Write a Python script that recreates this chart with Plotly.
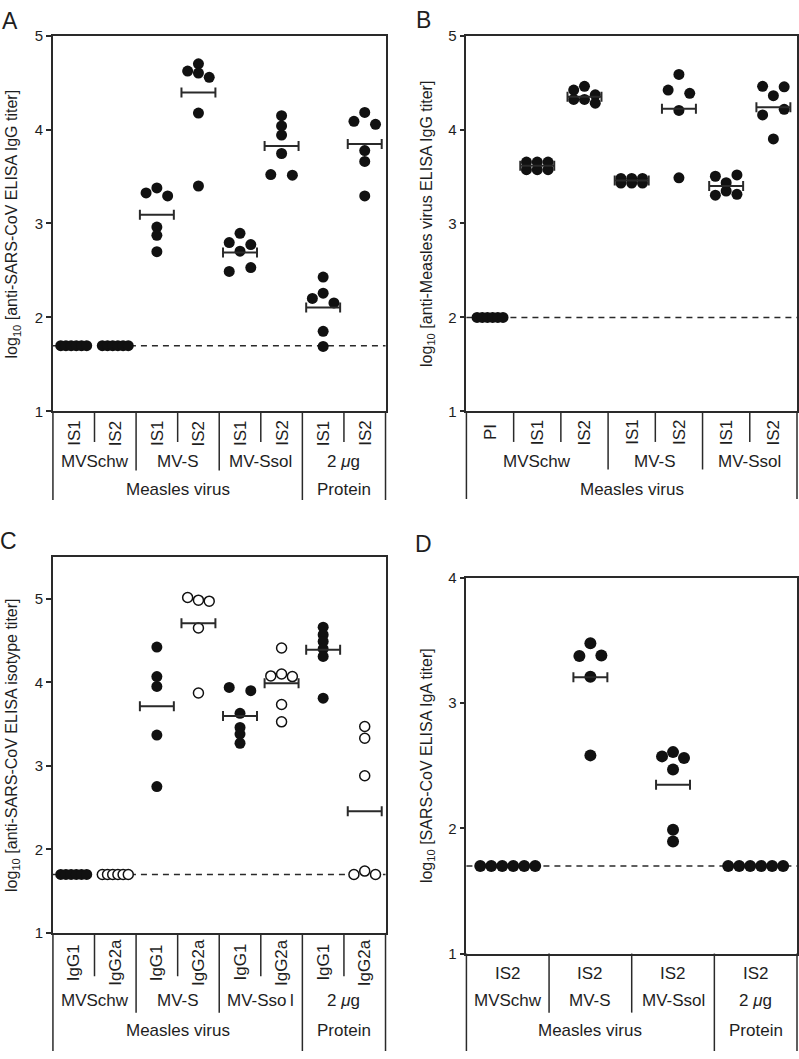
import numpy as np
import plotly.graph_objects as go

W, H = 799, 1059

# ---------------- data ----------------
# Panel A: anti-SARS-CoV ELISA IgG
a_sub = ["IS1", "IS2", "IS1", "IS2", "IS1", "IS2", "IS1", "IS2"]
a_groups = ["MVSchw", "MV-S", "MV-Ssol", "2 <i>μ</i>g"]
a_top = ["Measles virus", "Protein"]
a_values = [
    [1.70, 1.70, 1.70, 1.70, 1.70, 1.70],
    [1.70, 1.70, 1.70, 1.70, 1.70, 1.70],
    [3.378, 3.325, 3.294, 2.962, 2.874, 2.700],
    [4.699, 4.622, 4.601, 4.556, 4.175, 3.399],
    [2.895, 2.797, 2.776, 2.706, 2.490, 2.531],
    [4.147, 4.038, 3.941, 3.745, 3.521, 3.514],
    [2.430, 2.259, 2.203, 2.155, 1.853, 1.692],
    [4.182, 4.087, 4.055, 3.776, 3.661, 3.294],
]
a_means = [None, None, 3.094, 4.395, 2.692, 3.825, 2.105, 3.846]
a_lod = 1.70

# Panel B: anti-Measles virus ELISA IgG
b_sub = ["PI", "IS1", "IS2", "IS1", "IS2", "IS1", "IS2"]
b_groups = ["MVSchw", "MV-S", "MV-Ssol"]
b_top = ["Measles virus"]
b_values = [
    [2.00, 2.00, 2.00, 2.00, 2.00, 2.00],
    [3.654, 3.654, 3.654, 3.573, 3.573, 3.573],
    [4.46, 4.42, 4.37, 4.32, 4.32, 4.28],
    [3.48, 3.48, 3.48, 3.43, 3.43, 3.43],
    [4.587, 4.420, 4.385, 4.203, 3.486],
    [3.503, 3.517, 3.434, 3.301, 3.346, 3.311],
    [4.460, 4.455, 4.360, 4.155, 4.215, 3.900],
]
b_means = [None, 3.615, 4.350, 3.458, 4.220, 3.400, 4.238]
b_lod = 2.00

# Panel C: anti-SARS-CoV ELISA isotype
c_sub = ["IgG1", "IgG2a", "IgG1", "IgG2a", "IgG1", "IgG2a", "IgG1", "IgG2a"]
c_groups = ["MVSchw", "MV-S", "MV-Sso\u2009l", "2 <i>μ</i>g"]
c_top = ["Measles virus", "Protein"]
c_values = [
    [1.70, 1.70, 1.70, 1.70, 1.70, 1.70],
    [1.70, 1.70, 1.70, 1.70, 1.70, 1.70],
    [4.422, 4.069, 3.951, 3.369, 2.752],
    [5.016, 4.984, 4.972, 4.650, 3.872],
    [3.939, 3.900, 3.629, 3.460, 3.381, 3.271],
    [4.411, 4.077, 4.100, 4.069, 3.735, 3.527],
    [4.66, 4.57, 4.49, 4.40, 4.31, 3.81],
    [3.472, 3.330, 2.882, 1.700, 1.740, 1.700],
]
c_means = [None, None, 3.715, 4.709, 3.597, 3.990, 4.390, 2.458]
c_open = [False, True, False, True, False, True, False, True]
c_lod = 1.70

# Panel D: SARS-CoV ELISA IgA
d_sub = ["IS2", "IS2", "IS2", "IS2"]
d_groups = ["MVSchw", "MV-S", "MV-Ssol", "2 <i>μ</i>g"]
d_top = ["Measles virus", "Protein"]
d_values = [
    [1.70, 1.70, 1.70, 1.70, 1.70, 1.70],
    [3.477, 3.375, 3.380, 3.210, 2.582],
    [2.574, 2.608, 2.561, 2.470, 1.988, 1.894],
    [1.70, 1.70, 1.70, 1.70, 1.70, 1.70],
]
d_means = [None, 3.205, 2.347, None]
d_lod = 1.70

# ---------------- style ----------------
LC = "#2a2a2a"
TC = "#1e1e1e"
DOT = "#111111"
LW = 1.5
FONT = "Liberation Sans, Arial, sans-serif"
CAT_SIZE = 17
TITLE_SIZE = 16


def swarm_offsets(vals, step_px, max_half_px):
    """Prism-like spreading: points sharing a 0.1-unit row are spread sideways."""
    rows = {}
    for i, v in enumerate(vals):
        k = int(np.floor(v * 10 + 0.5 + 1e-9))
        rows.setdefault(k, []).append(i)
    offs = [0.0] * len(vals)
    for idx in rows.values():
        n = len(idx)
        if n == 1:
            pos = [0.0]
        elif n == 2:
            pos = [-step_px, step_px]
        else:
            pos = [(j - (n - 1) / 2) * step_px for j in range(n)]
        half = max(abs(p) for p in pos)
        if half > max_half_px:
            f = max_half_px / half
            pos = [p * f for p in pos]
        for j, i in enumerate(idx):
            offs[i] = pos[j]
    return offs


panels = [
    dict(letter="A", values=a_values, means=a_means, lod=a_lod, sub=a_sub, groups=a_groups,
         group_span=[(0, 1), (2, 3), (4, 5), (6, 7)], top=a_top, top_span=[(0, 5), (6, 7)],
         rotated=True, open=[False] * 8,
         x0=53, x1=386, ytop=27, ybot=409, yr=[1, 5], ticks=[1, 2, 3, 4, 5],
         title="log<sub>10</sub> [anti-SARS-CoV ELISA IgG titer]", title_x=13,
         short=[0.5, 2.5, 4.5, 6.5], medium=[1.5, 3.5], long=[5.5],
         y_sub=431, y_grp=460, y_top=488, e_short=440, e_med=469, e_long=499,
         dot=11, step=10.8, maxhalf=13, letter_xy=(10, 12)),
    dict(letter="B", values=b_values, means=b_means, lod=b_lod, sub=b_sub, groups=b_groups,
         group_span=[(0, 2), (3, 4), (5, 6)], top=b_top, top_span=[(0, 6)],
         rotated=True, open=[False] * 7,
         x0=467, x1=798, ytop=27, ybot=409, yr=[1, 5], ticks=[1, 2, 3, 4, 5],
         title="log<sub>10</sub> [anti-Measles virus ELISA IgG titer]", title_x=428,
         short=[0.5, 1.5, 3.5, 5.5], medium=[2.5, 4.5], long=[],
         y_sub=430, y_grp=460, y_top=488, e_short=440, e_med=468, e_long=498,
         dot=11, step=10.8, maxhalf=13, letter_xy=(424, 11)),
    dict(letter="C", values=c_values, means=c_means, lod=c_lod, sub=c_sub, groups=c_groups,
         group_span=[(0, 1), (2, 3), (4, 5), (6, 7)], top=c_top, top_span=[(0, 5), (6, 7)],
         rotated=True, open=c_open,
         x0=53, x1=386, ytop=557, ybot=939, yr=[1, 5.5], ticks=[1, 2, 3, 4, 5],
         title="log<sub>10</sub> [anti-SARS-CoV ELISA isotype titer]", title_x=13,
         short=[0.5, 2.5, 4.5, 6.5], medium=[1.5, 3.5], long=[5.5],
         y_sub=969, y_grp=1008, y_top=1038, e_short=983, e_med=1020, e_long=1059,
         dot=11, step=10.8, maxhalf=13, letter_xy=(9, 541)),
    dict(letter="D", values=d_values, means=d_means, lod=d_lod, sub=d_sub, groups=d_groups,
         group_span=[(0, 0), (1, 1), (2, 2), (3, 3)], top=d_top, top_span=[(0, 2), (3, 3)],
         rotated=False, open=[False] * 4,
         x0=467, x1=798, ytop=578, ybot=960, yr=[1, 4], ticks=[1, 2, 3, 4],
         title="log<sub>10</sub> [SARS-CoV ELISA IgA titer]", title_x=428,
         short=[], medium=[0.5, 1.5], long=[2.5],
         y_sub=980, y_grp=1008, y_top=1038, e_short=1020, e_med=1020, e_long=1059,
         dot=12, step=11.0, maxhalf=30, letter_xy=(424, 544)),
]


def py(px):
    return 1 - px / H


fig = go.Figure()
shapes = []
annotations = []

for n, P in enumerate(panels, start=1):
    sfx = "" if n == 1 else str(n)
    xa, ya = "x" + sfx, "y" + sfx
    ncols = len(P["values"])
    colw = (P["x1"] - P["x0"]) / ncols

    # dots
    for filled_pass in (True, False):
        xs, ys = [], []
        for ci, vals in enumerate(P["values"]):
            if P["open"][ci] == filled_pass:
                continue
            offs = swarm_offsets(vals, P["step"], P["maxhalf"])
            for v, o in zip(vals, offs):
                xs.append(ci + o / colw)
                ys.append(v)
        if not xs:
            continue
        if filled_pass:
            marker = dict(size=P["dot"], color=DOT, line=dict(width=0))
        else:
            marker = dict(size=P["dot"] - 1, color="white", line=dict(width=1.5, color=DOT))
        fig.add_trace(go.Scatter(x=xs, y=ys, mode="markers", marker=marker,
                                 xaxis=xa, yaxis=ya, hoverinfo="skip", showlegend=False))

    # mean bars
    for ci, m in enumerate(P["means"]):
        if m is None:
            continue
        fig.add_trace(go.Scatter(
            x=[ci], y=[m], mode="markers",
            marker=dict(size=1, color="rgba(0,0,0,0)"),
            error_x=dict(type="constant", value=17 / colw, width=5, thickness=2, color=LC),
            xaxis=xa, yaxis=ya, hoverinfo="skip", showlegend=False))

    fig.update_layout({
        "xaxis" + sfx: dict(domain=[P["x0"] / W, P["x1"] / W], range=[-0.5, ncols - 0.5],
                            anchor=ya, showline=True, mirror=True, linecolor=LC, linewidth=LW,
                            showticklabels=False, ticks="", showgrid=False, zeroline=False),
        "yaxis" + sfx: dict(domain=[py(P["ybot"]), py(P["ytop"])], range=P["yr"], anchor=xa,
                            tickvals=P["ticks"], ticks="outside", ticklen=5, tickwidth=LW,
                            tickcolor=LC, tickfont=dict(family=FONT, size=15, color=TC),
                            showline=True, mirror=True, linecolor=LC, linewidth=LW,
                            showgrid=False, zeroline=False),
    })

    # detection limit dashed line
    shapes.append(dict(type="line", xref=xa + " domain", x0=0, x1=1, yref=ya,
                       y0=P["lod"], y1=P["lod"], layer="below",
                       line=dict(color=LC, width=1.5, dash="6px,5px")))
    # outer vertical lines of the category block
    for xd in (0, 1):
        shapes.append(dict(type="line", xref=xa + " domain", x0=xd, x1=xd, yref="paper",
                           y0=py(P["ybot"]), y1=py(P["e_long"]), line=dict(color=LC, width=LW)))
    # dividers
    for lst, end in ((P["short"], P["e_short"]), (P["medium"], P["e_med"]), (P["long"], P["e_long"])):
        for xv in lst:
            shapes.append(dict(type="line", xref=xa, x0=xv, x1=xv, yref="paper",
                               y0=py(P["ybot"]), y1=py(end), line=dict(color=LC, width=LW)))

    # category labels
    for ci, s in enumerate(P["sub"]):
        annotations.append(dict(x=ci, y=py(P["y_sub"]), xref=xa, yref="paper", text=s,
                                showarrow=False, textangle=-90 if P["rotated"] else 0,
                                font=dict(family=FONT, size=CAT_SIZE, color=TC),
                                xanchor="center", yanchor="middle"))
    for (g0, g1), g in zip(P["group_span"], P["groups"]):
        annotations.append(dict(x=(g0 + g1) / 2, y=py(P["y_grp"]), xref=xa, yref="paper", text=g,
                                showarrow=False, font=dict(family=FONT, size=CAT_SIZE, color=TC),
                                xanchor="center", yanchor="middle"))
    for (t0, t1), t in zip(P["top_span"], P["top"]):
        annotations.append(dict(x=(t0 + t1) / 2, y=py(P["y_top"]), xref=xa, yref="paper", text=t,
                                showarrow=False, font=dict(family=FONT, size=CAT_SIZE, color=TC),
                                xanchor="center", yanchor="middle"))

    # y-axis title
    annotations.append(dict(x=P["title_x"] / W, y=py((P["ytop"] + P["ybot"]) / 2),
                            xref="paper", yref="paper", text=P["title"], showarrow=False,
                            textangle=-90, font=dict(family=FONT, size=TITLE_SIZE, color=TC),
                            xanchor="center", yanchor="middle"))
    # panel letter
    lx, ly = P["letter_xy"]
    annotations.append(dict(x=lx / W, y=py(ly), xref="paper", yref="paper", text=P["letter"],
                            showarrow=False, font=dict(family=FONT, size=23, color=TC),
                            xanchor="center", yanchor="middle"))

fig.update_layout(width=W, height=H, margin=dict(l=0, r=0, t=0, b=0),
                  paper_bgcolor="white", plot_bgcolor="white", showlegend=False,
                  shapes=shapes, annotations=annotations)

post = (
    "var gd=document.getElementById('{plot_id}');"
    "document.documentElement.style.cssText='margin:0;padding:0;overflow:hidden;height:1059px;';"
    "document.body.style.cssText='margin:0;padding:0;overflow:hidden;height:1059px;';"
    "gd.style.position='fixed';gd.style.left='0px';gd.style.top='0px';"
)
fig.write_html("out.html", config={"displayModeBar": False}, post_script=post)
